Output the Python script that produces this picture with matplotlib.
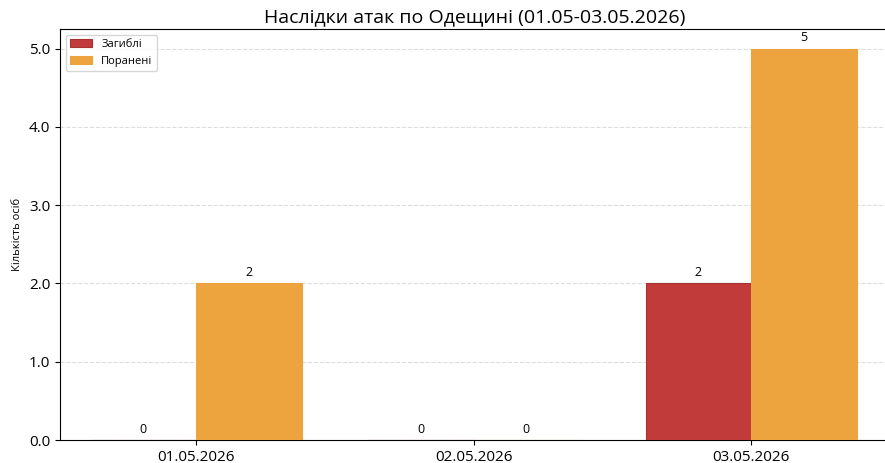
import numpy as np
import matplotlib.pyplot as plt
from matplotlib.ticker import FormatStrFormatter

dates = ['01.05.2026', '02.05.2026', '03.05.2026']
killed = [0, 0, 2]
injured = [2, 0, 5]

plt.rcParams['font.family'] = ['Open Sans', 'DejaVu Sans']

fig = plt.figure(figsize=(8.85, 4.63), dpi=100)
ax = fig.add_axes([60/885, 1-440/463, 830/885, (440-29)/463])

x = np.arange(len(dates))
w = 0.38
# edge lines keep the zero-height bars visible as a thin stroke on the axis
b1 = ax.bar(x - w/2, killed, w, color='#c13b3b', edgecolor='#a83232', linewidth=0.8,
            label='Загиблі', zorder=3)
b2 = ax.bar(x + w/2, injured, w, color='#eda43f', edgecolor='#eda43f', linewidth=0.8,
            label='Поранені', zorder=3)
for bars in (b1, b2):
    ax.bar_label(bars, padding=3, fontsize=9)

ax.set_xlim(-0.49, 2.5)
ax.set_ylim(0, 5.25)
ax.set_xticks(x)
ax.set_xticklabels(dates, fontsize=11)
ax.set_yticks([0, 1, 2, 3, 4, 5])
ax.yaxis.set_major_formatter(FormatStrFormatter('%.1f'))
ax.tick_params(axis='y', labelsize=11)
ax.set_ylabel('Кількість осіб', fontsize=8)
ax.set_title('Наслідки атак по Одещині (01.05-03.05.2026)', fontsize=14, pad=5)
ax.grid(axis='y', linestyle='--', color='#dddddd', zorder=0)
ax.spines['right'].set_visible(False)
ax.legend(loc='upper left', fontsize=8)

plt.savefig('out.png', dpi=100)
